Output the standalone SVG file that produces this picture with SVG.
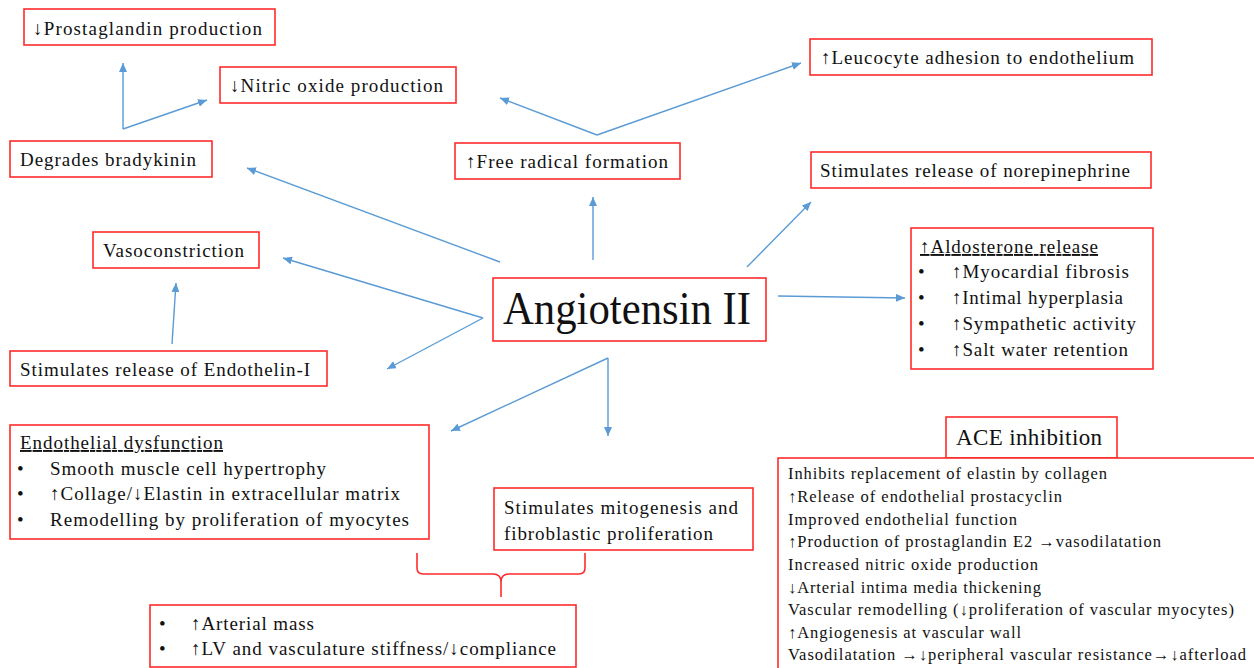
<svg xmlns="http://www.w3.org/2000/svg" width="1254" height="668" viewBox="0 0 1254 668" font-family="'Liberation Serif', 'Times New Roman', serif">
<defs>
<marker id="ah" markerUnits="userSpaceOnUse" markerWidth="10" markerHeight="8" refX="9" refY="4" orient="auto">
<path d="M0,0 L9,4 L0,8 Z" fill="#5b9bd5"/>
</marker>
<style>
.box{fill:#fff;stroke:#ff2b2b;stroke-width:1.6}
.t{font-family:'Liberation Serif',serif;font-size:19px;fill:#111}
.s{font-family:'Liberation Serif',serif;font-size:16.5px;fill:#111}
.u{text-decoration:underline}
.c line{stroke:#5b9bd5;stroke-width:1.4;marker-end:url(#ah)}
.brace{fill:none;stroke:#ff2b2b;stroke-width:1.6}
</style>
</defs>
<rect width="1254" height="668" fill="#fff"/>

<g id="connectors" class="c">
<line x1="123" y1="129" x2="123" y2="63"/>
<line x1="123" y1="129" x2="207" y2="100"/>
<line x1="500" y1="262" x2="247" y2="168"/>
<line x1="597" y1="135" x2="500" y2="98"/>
<line x1="597" y1="135" x2="801" y2="63"/>
<line x1="593" y1="260" x2="593" y2="197"/>
<line x1="747" y1="267" x2="811" y2="202"/>
<line x1="778" y1="296" x2="905" y2="298"/>
<line x1="483" y1="318" x2="283" y2="258"/>
<line x1="483" y1="318" x2="387" y2="369"/>
<line x1="172" y1="344" x2="176" y2="283"/>
<line x1="608" y1="358" x2="451" y2="431"/>
<line x1="608" y1="358" x2="608" y2="436"/>
</g>

<g id="prostaglandin">
<rect class="box" x="24" y="9" width="251" height="36"/>
<text class="t" x="33" y="35" textLength="229">↓Prostaglandin production</text>
</g>
<g id="nitric">
<rect class="box" x="220" y="67" width="236" height="36"/>
<text class="t" x="230" y="92" textLength="213">↓Nitric oxide production</text>
</g>
<g id="bradykinin">
<rect class="box" x="10" y="141" width="202" height="36"/>
<text class="t" x="20" y="166" textLength="176">Degrades bradykinin</text>
</g>
<g id="freeradical">
<rect class="box" x="455" y="143" width="225" height="36"/>
<text class="t" x="466" y="168" textLength="202">↑Free radical formation</text>
</g>
<g id="leucocyte">
<rect class="box" x="810" y="39" width="342" height="36"/>
<text class="t" x="821" y="64" textLength="313">↑Leucocyte adhesion to endothelium</text>
</g>
<g id="norepinephrine">
<rect class="box" x="811" y="152" width="340" height="36"/>
<text class="t" x="820" y="177" textLength="310">Stimulates release of norepinephrine</text>
</g>
<g id="aldosterone">
<rect class="box" x="911" y="228" width="242" height="141"/>
<text class="t u" x="920" y="253" textLength="178">↑Aldosterone release</text>
<text class="t" x="918" y="278">•</text>
<text class="t" x="952" y="278" textLength="177">↑Myocardial fibrosis</text>
<text class="t" x="918" y="304">•</text>
<text class="t" x="952" y="304" textLength="171">↑Intimal hyperplasia</text>
<text class="t" x="918" y="330">•</text>
<text class="t" x="952" y="330" textLength="184">↑Sympathetic activity</text>
<text class="t" x="918" y="356">•</text>
<text class="t" x="952" y="356" textLength="176">↑Salt water retention</text>
</g>
<g id="angiotensin">
<rect class="box" x="493" y="278" width="273" height="63"/>
<text class="t" x="503" y="324" style="font-size:46px" textLength="248" lengthAdjust="spacingAndGlyphs">Angiotensin II</text>
</g>
<g id="vasoconstriction">
<rect class="box" x="93" y="232" width="166" height="36"/>
<text class="t" x="103" y="257" textLength="141">Vasoconstriction</text>
</g>
<g id="endothelin">
<rect class="box" x="10" y="351" width="317" height="35"/>
<text class="t" x="20" y="376" textLength="290">Stimulates release of Endothelin-I</text>
</g>
<g id="endothelial">
<rect class="box" x="10" y="425" width="419" height="114"/>
<text class="t u" x="20" y="449" textLength="203">Endothelial dysfunction</text>
<text class="t" x="17" y="475">•</text>
<text class="t" x="50" y="475" textLength="276">Smooth muscle cell hypertrophy</text>
<text class="t" x="17" y="500">•</text>
<text class="t" x="50" y="500" textLength="350">↑Collage/↓Elastin in extracellular matrix</text>
<text class="t" x="17" y="526">•</text>
<text class="t" x="50" y="526" textLength="359">Remodelling by proliferation of myocytes</text>
</g>
<g id="mitogenesis">
<rect class="box" x="494" y="488" width="259" height="62"/>
<text class="t" x="504" y="514" textLength="234">Stimulates mitogenesis and</text>
<text class="t" x="504" y="540" textLength="209">fibroblastic proliferation</text>
</g>
<g id="brace">
<path class="brace" d="M417,553 L417,568 Q417,574 423,574 L493,574 Q501,574 501,582 L501,597 M501,597 L501,582 Q501,574 509,574 L579,574 Q585,574 585,568 L585,553"/>
</g>
<g id="arterial">
<rect class="box" x="150" y="605" width="426" height="62"/>
<text class="t" x="159" y="630">•</text>
<text class="t" x="191" y="630" textLength="123">↑Arterial mass</text>
<text class="t" x="159" y="655">•</text>
<text class="t" x="191" y="655" textLength="365">↑LV and vasculature stiffness/↓compliance</text>
</g>
<g id="ace">
<rect class="box" x="946" y="417" width="171" height="41"/>
<text class="t" x="956" y="445" style="font-size:23px" textLength="146">ACE inhibition</text>
<rect class="box" x="778" y="458" width="490" height="230"/>
<text class="s" x="788" y="479" textLength="319">Inhibits replacement of elastin by collagen</text>
<text class="s" x="788" y="502" textLength="274">↑Release of endothelial prostacyclin</text>
<text class="s" x="788" y="525" textLength="229">Improved endothelial function</text>
<text class="s" x="788" y="547" textLength="373">↑Production of prostaglandin E2 →vasodilatation</text>
<text class="s" x="788" y="570" textLength="250">Increased nitric oxide production</text>
<text class="s" x="788" y="593" textLength="253">↓Arterial intima media thickening</text>
<text class="s" x="788" y="615" textLength="446">Vascular remodelling (↓proliferation of vascular myocytes)</text>
<text class="s" x="788" y="638" textLength="233">↑Angiogenesis at vascular wall</text>
<text class="s" x="788" y="660" textLength="458">Vasodilatation →↓peripheral vascular resistance→↓afterload</text>
</g>
</svg>
